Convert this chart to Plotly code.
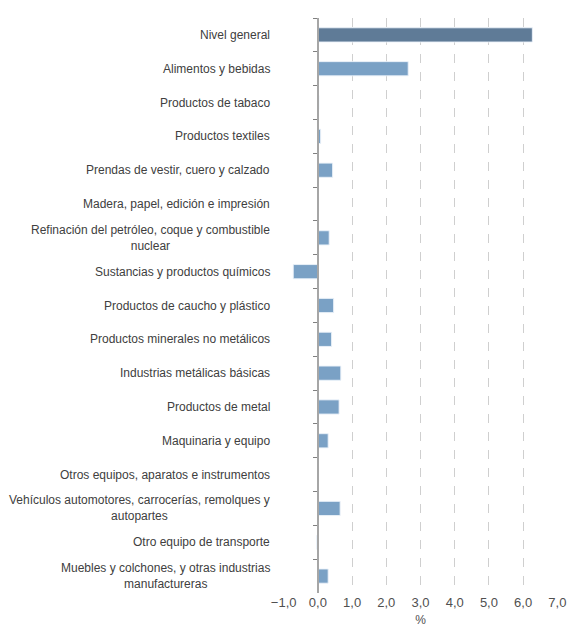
import plotly.graph_objects as go

categories = [
    "Nivel general",
    "Alimentos y bebidas",
    "Productos de tabaco",
    "Productos textiles",
    "Prendas de vestir, cuero y calzado",
    "Madera, papel, edición e impresión",
    "Refinación del petróleo, coque y combustible<br>nuclear",
    "Sustancias y productos químicos",
    "Productos de caucho y plástico",
    "Productos minerales no metálicos",
    "Industrias metálicas básicas",
    "Productos de metal",
    "Maquinaria y equipo",
    "Otros equipos, aparatos e instrumentos",
    "Vehículos automotores, carrocerías, remolques y<br>autopartes",
    "Otro equipo de transporte",
    "Muebles y colchones, y otras industrias<br>manufactureras",
]
values = [6.27, 2.64, 0.03, 0.08, 0.43, 0.02, 0.33, -0.72, 0.46, 0.40,
          0.67, 0.62, 0.30, 0.02, 0.65, -0.03, 0.30]
x_ticks = [-1, 0, 1, 2, 3, 4, 5, 6, 7]
x_title = "%"

dark = "#5f7b97"
light = "#7aa1c5"
colors = [dark] + [light] * (len(categories) - 1)

W, H = 567, 635
ml, mr, mt, mb = 283, 9, 18, 42
xmin, xmax = -1, 7
pad = 0.02
n = len(categories)

fig = go.Figure()
fig.add_trace(go.Bar(
    x=values, y=categories, orientation="h",
    marker=dict(color=colors, line=dict(color="rgba(235,242,250,0.9)", width=1)),
    width=0.42, hoverinfo="x+y", showlegend=False,
))
# helper trace to carry the zero axis (line with boundary ticks)
fig.add_trace(go.Scatter(
    x=[0] * n, y=categories, yaxis="y2", mode="lines",
    line=dict(width=0), hoverinfo="skip", showlegend=False,
))

for c in categories:
    fig.add_annotation(
        x=-0.04, xref="paper", y=c, yref="y", text=c, showarrow=False,
        xanchor="right", yanchor="middle", align="center",
        font=dict(family="Liberation Sans", size=12, color="#404040"),
    )

zero_pos = (0 - (xmin - pad)) / (xmax - xmin + 2 * pad)
yrange = [n - 0.5, -0.5]
fig.update_layout(
    width=W, height=H, autosize=False,
    margin=dict(l=ml, r=mr, t=mt, b=mb, pad=0, autoexpand=False),
    plot_bgcolor="white", paper_bgcolor="white",
    separators=",.",
    font=dict(family="Liberation Sans", size=12, color="#404040"),
    xaxis=dict(
        range=[xmin - pad, xmax + pad], tickvals=x_ticks, tickformat=".1f",
        showgrid=True, gridcolor="#cfcfcf", griddash="dash", gridwidth=1,
        zeroline=False, showline=False, ticks="", automargin=False,
        tickfont=dict(size=13, color="#505050"),
        title=dict(text=x_title, font=dict(size=12, color="#505050"), standoff=6),
    ),
    yaxis=dict(
        range=yrange, autorange=False, showticklabels=False, ticks="", showgrid=False,
        zeroline=False, showline=False, automargin=False,
    ),
    yaxis2=dict(
        overlaying="y", range=yrange, autorange=False, anchor="free", position=zero_pos,
        showline=True, linecolor="#a6a6a6", linewidth=1.5, automargin=False,
        ticks="outside", ticklen=4, tickcolor="#808080", tickwidth=1,
        tickson="boundaries", showticklabels=False, showgrid=False, zeroline=False,
    ),
)

fig.write_html(
    "out.html",
    config={"displayModeBar": False},
    post_script="document.body.style.margin='0';document.body.style.overflow='hidden';",
)
